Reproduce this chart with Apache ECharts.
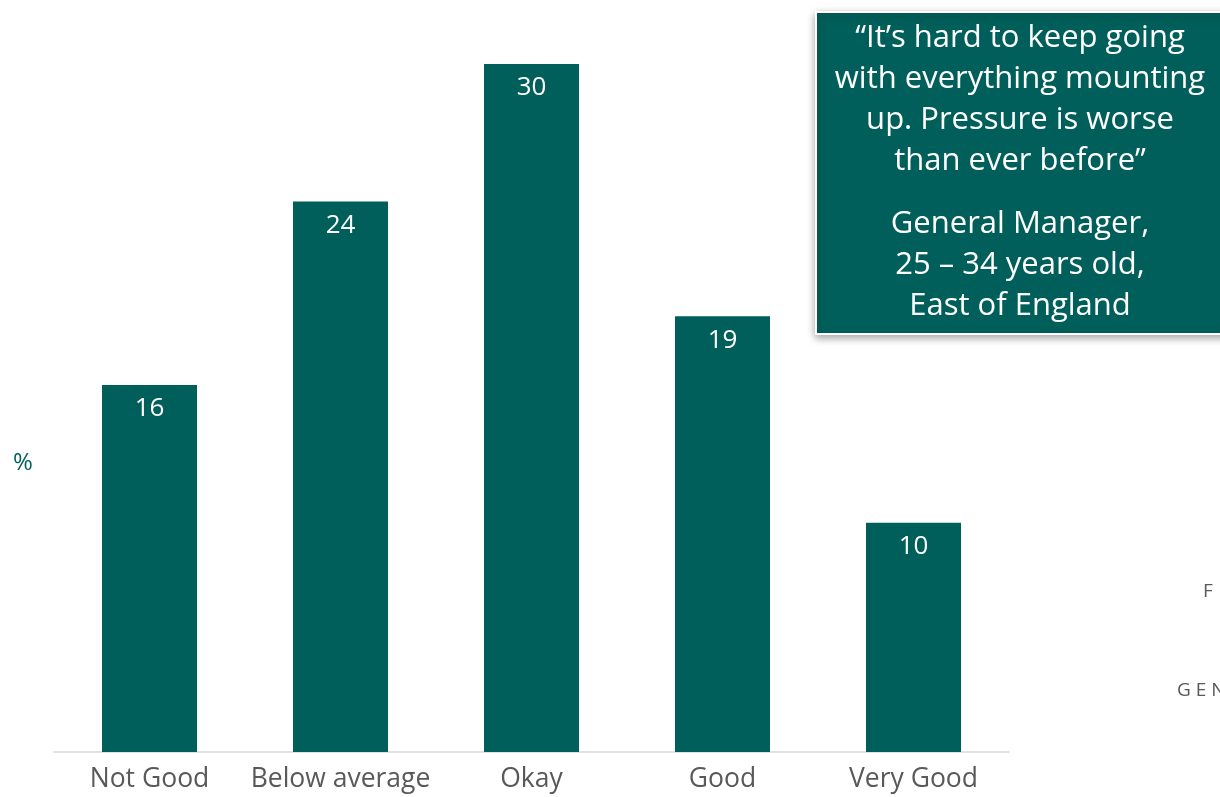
<!DOCTYPE html>
<html>
<head>
<meta charset="utf-8">
<script src="https://cdn.jsdelivr.net/npm/echarts@6/dist/echarts.min.js"></script>
<style>
  html, body { margin: 0; padding: 0; background: #fff; }
  #main { width: 1220px; height: 797px; }
</style>
</head>
<body>
<div id="main"></div>
<script>
// categories and values
var categories = ['Not Good', 'Below average', 'Okay', 'Good', 'Very Good']
var values = [16, 24, 30, 19, 10]

var quoteLines = ['\u201cIt\u2019s hard to keep going', 'with everything mounting', 'up. Pressure is worse', 'than ever before\u201d']
var sourceLines = ['General Manager,', '25 \u2013 34 years old,', 'East of England']

var teal = '#005f5a'
var font = '"Open Sans"'

var chart = echarts.init(document.getElementById('main'), null, { renderer: 'canvas' })

var option = {
    animation: false,
    grid: {
        left: 54,
        right: 211,
        top: 64,
        bottom: 45
    },
    xAxis: {
        type: 'category',
        data: categories,
        axisLine: { lineStyle: { color: '#d9d9d9', width: 1.5 } },
        axisTick: { show: false },
        axisLabel: {
            interval: 0,
            color: '#595959',
            fontFamily: font,
            fontSize: 26.5,
            margin: 14
        }
    },
    yAxis: {
        type: 'value',
        min: 0,
        max: 30,
        show: false,
        splitLine: { show: false }
    },
    series: [
        {
            type: 'bar',
            data: values,
            barWidth: 95,
            itemStyle: { color: teal },
            label: {
                show: true,
                position: 'insideTop',
                distance: 11,
                color: '#fff',
                fontFamily: font,
                fontSize: 26
            }
        }
    ],
    graphic: [
        {
            type: 'text',
            left: 13,
            top: 451,
            style: { text: '%', fill: teal, font: '24px ' + font }
        },
        // quote box
        {
            type: 'rect',
            shape: { x: 816, y: 12, width: 420, height: 322 },
            style: {
                fill: teal,
                stroke: '#fff',
                lineWidth: 2,
                shadowBlur: 8,
                shadowOffsetX: 0,
                shadowOffsetY: 3,
                shadowColor: 'rgba(0,0,0,0.35)'
            }
        },
        {
            type: 'text',
            x: 1020,
            y: 18,
            style: {
                text: quoteLines.join('\n'),
                fill: '#fff',
                font: '31px ' + font,
                align: 'center',
                lineHeight: 41
            }
        },
        {
            type: 'text',
            x: 1020,
            y: 204,
            style: {
                text: sourceLines.join('\n'),
                fill: '#fff',
                font: '31px ' + font,
                align: 'center',
                lineHeight: 41
            }
        },
        // clipped text at the right edge
        {
            type: 'text',
            x: 1203,
            y: 582,
            style: { text: 'F', fill: '#595959', font: '19px ' + font }
        },
        {
            type: 'text',
            x: 1177,
            y: 681,
            style: { text: 'G E N E', fill: '#595959', font: '19px ' + font }
        }
    ]
}
chart.setOption(option)
</script>
</body>
</html>
